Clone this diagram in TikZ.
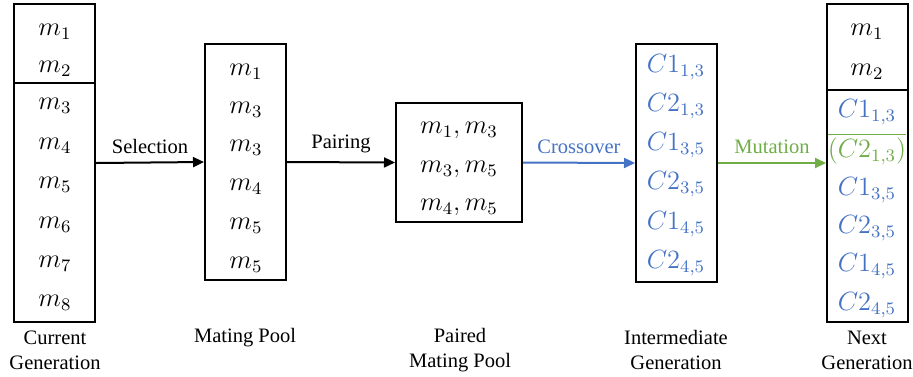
\documentclass[tikz,border=0pt]{standalone}
\usepackage{fontspec}
\setmainfont{Liberation Serif}
\usetikzlibrary{arrows.meta}
\definecolor{cblue}{HTML}{4472C4}
\definecolor{cgreen}{HTML}{70AD47}
\begin{document}
\begin{tikzpicture}[x=1pt,y=-1pt,
  box/.style={draw, line width=2pt, inner sep=0pt},
  item/.style={font=\fontsize{12}{14}\selectfont, scale=2.2, inner sep=0pt},
  lbl/.style={font=\fontsize{20.5}{25}\selectfont, align=center, inner sep=0pt},
  conn/.style={line width=2pt, -{Triangle[length=11pt,width=10pt]}}]
\useasboundingbox (0,0) rectangle (913,376);
% boxes
\node[box, minimum width=81pt, minimum height=318pt] (cur) at (54.5,163) {};
\draw[line width=2pt] (cur.west |- 0,83) coordinate (cd1) -- (cur.east |- 0,83) coordinate (cd2);
\node[box, minimum width=81pt, minimum height=236pt] (pool) at (245.5,162) {};
\node[box, minimum width=126pt, minimum height=119pt] (pair) at (459,162.5) {};
\node[box, minimum width=81pt, minimum height=238pt] (inter) at (676.5,163) {};
\node[box, minimum width=81pt, minimum height=318pt] (next) at (867.5,163) {};
\draw[line width=2pt] (next.west |- 0,90) coordinate (nd1) -- (next.east |- 0,90) coordinate (nd2);
% current generation items
\node[item] (c1) at (55,32) {$m_1$};
\node[item] (c2) at (55,69) {$m_2$};
\node[item] (c3) at (55,106) {$m_3$};
\node[item] (c4) at (55,146) {$m_4$};
\node[item] (c5) at (55,185) {$m_5$};
\node[item] (c6) at (55,225) {$m_6$};
\node[item] (c7) at (55,264) {$m_7$};
\node[item] (c8) at (55,303) {$m_8$};
% mating pool items
\node[item] (p1) at (246,72) {$m_1$};
\node[item] (p2) at (246,110) {$m_3$};
\node[item] (p3) at (246,148) {$m_3$};
\node[item] (p4) at (246,187) {$m_4$};
\node[item] (p5) at (246,226) {$m_5$};
\node[item] (p6) at (246,265) {$m_5$};
% paired
\node[item] (q1) at (459,130) {$m_1,m_3$};
\node[item] (q2) at (459,169) {$m_3,m_5$};
\node[item] (q3) at (459,207) {$m_4,m_5$};
% intermediate
\begin{scope}[every node/.append style={text=cblue}]
\node[item] (i1) at (676,67) {$C1_{1,3}$};
\node[item] (i2) at (676,106) {$C2_{1,3}$};
\node[item] (i3) at (676,145) {$C1_{3,5}$};
\node[item] (i4) at (676,184) {$C2_{3,5}$};
\node[item] (i5) at (676,224) {$C1_{4,5}$};
\node[item] (i6) at (676,263) {$C2_{4,5}$};
\end{scope}
% next generation
\node[item] (n1) at (867,32) {$m_1$};
\node[item] (n2) at (867,72) {$m_2$};
\node[item, text=cblue] (n3) at (867,112) {$C1_{1,3}$};
\node[item, text=cgreen] (n4) at (867,149) {$\overline{(C2_{1,3})}$};
\node[item, text=cblue] (n5) at (867,190) {$C1_{3,5}$};
\node[item, text=cblue] (n6) at (867,228) {$C2_{3,5}$};
\node[item, text=cblue] (n7) at (867,266) {$C1_{4,5}$};
\node[item, text=cblue] (n8) at (867,305) {$C2_{4,5}$};
% connectors
\draw[conn] (cur.east) -- node[lbl, above=8pt] (ls) {Selection} (pool.west);
\draw[conn] (pool.east) -- node[lbl, above=8pt] (lp) {Pairing} (pair.west);
\draw[conn, cblue] (pair.east) -- node[lbl, above=8pt, text=cblue] (lc) {Crossover} (inter.west);
\draw[conn, cgreen] (inter.east) -- node[lbl, above=8pt, text=cgreen] (lm) {Mutation} (next.west);
% captions
\node[lbl] (t1) at (55,350) {Current\\Generation};
\node[lbl] (t2) at (245,338) {Mating Pool};
\node[lbl] (t3) at (460,350) {Paired\\Mating Pool};
\node[lbl] (t4) at (676,350) {Intermediate\\Generation};
\node[lbl] (t5) at (867,350) {Next\\Generation};
\end{tikzpicture}
\end{document}
